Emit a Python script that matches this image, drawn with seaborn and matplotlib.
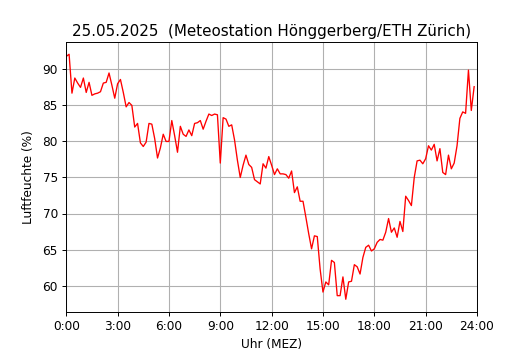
import matplotlib
matplotlib.use("Agg")
import matplotlib.pyplot as plt
import numpy as np
import pandas as pd
import seaborn as sns

# relative humidity (%), one value every 10 minutes, 00:00 .. 23:50
humidity = [
    91.8, 92.1, 86.7, 88.8, 88.1, 87.5,
    88.8, 86.8, 88.2, 86.4, 86.6, 86.7,
    86.9, 88.1, 88.2, 89.5, 87.8, 86.0,
    88.0, 88.6, 86.8, 84.8, 85.4, 85.0,
    82.0, 82.5, 79.8, 79.3, 79.9, 82.5,
    82.4, 80.4, 77.7, 79.1, 81.0, 80.0,
    80.0, 82.9, 80.8, 78.5, 82.1, 81.0,
    80.7, 81.6, 80.8, 82.5, 82.6, 82.9,
    81.7, 82.8, 83.8, 83.6, 83.8, 83.7,
    77.0, 83.3, 83.1, 82.1, 82.3, 80.2,
    77.4, 75.0, 76.7, 78.1, 76.8, 76.4,
    74.7, 74.4, 74.1, 76.9, 76.3, 77.9,
    76.7, 75.4, 76.2, 75.5, 75.5, 75.4,
    74.9, 75.9, 72.9, 73.7, 71.7, 71.7,
    69.5, 67.2, 65.1, 66.9, 66.8, 62.3,
    59.1, 60.5, 60.1, 63.5, 63.2, 58.6,
    58.6, 61.2, 58.1, 60.5, 60.6, 62.9,
    62.6, 61.6, 63.9, 65.3, 65.6, 64.8,
    65.1, 66.0, 66.4, 66.3, 67.4, 69.3,
    67.4, 68.0, 66.7, 68.9, 67.5, 72.4,
    71.8, 71.1, 75.0, 77.3, 77.4, 76.9,
    77.6, 79.4, 78.8, 79.6, 77.3, 79.0,
    75.7, 75.4, 78.1, 76.2, 77.0, 79.4,
    83.2, 84.1, 83.9, 89.9, 84.3, 87.6,
]
hours = np.arange(len(humidity)) / 6.0

tick_hours = [0, 3, 6, 9, 12, 15, 18, 21, 24]
tick_labels = ["0:00", "3:00", "6:00", "9:00", "12:00",
               "15:00", "18:00", "21:00", "24:00"]

df = pd.DataFrame({"hour": hours, "rh": humidity})

# lower dpi on a bigger canvas -> same 530x350 px, slightly smaller text
dpi = 87
fig, ax = plt.subplots(figsize=(530 / dpi, 350 / dpi), dpi=dpi)
sns.lineplot(data=df, x="hour", y="rh", color="red", linewidth=1.1, ax=ax)

ax.set_xlim(0, 24)
ax.set_xticks(tick_hours)
ax.set_xticklabels(tick_labels)
ax.grid(True, color="#b0b0b0", linewidth=0.9)
ax.set_xlabel("Uhr (MEZ)", labelpad=4)
ax.set_ylabel("Luftfeuchte (%)", labelpad=6)
ax.set_title("25.05.2025  (Meteostation Hönggerberg/ETH Zürich)",
             fontsize=12.5, pad=5)

plt.savefig("out.png", dpi=dpi)
